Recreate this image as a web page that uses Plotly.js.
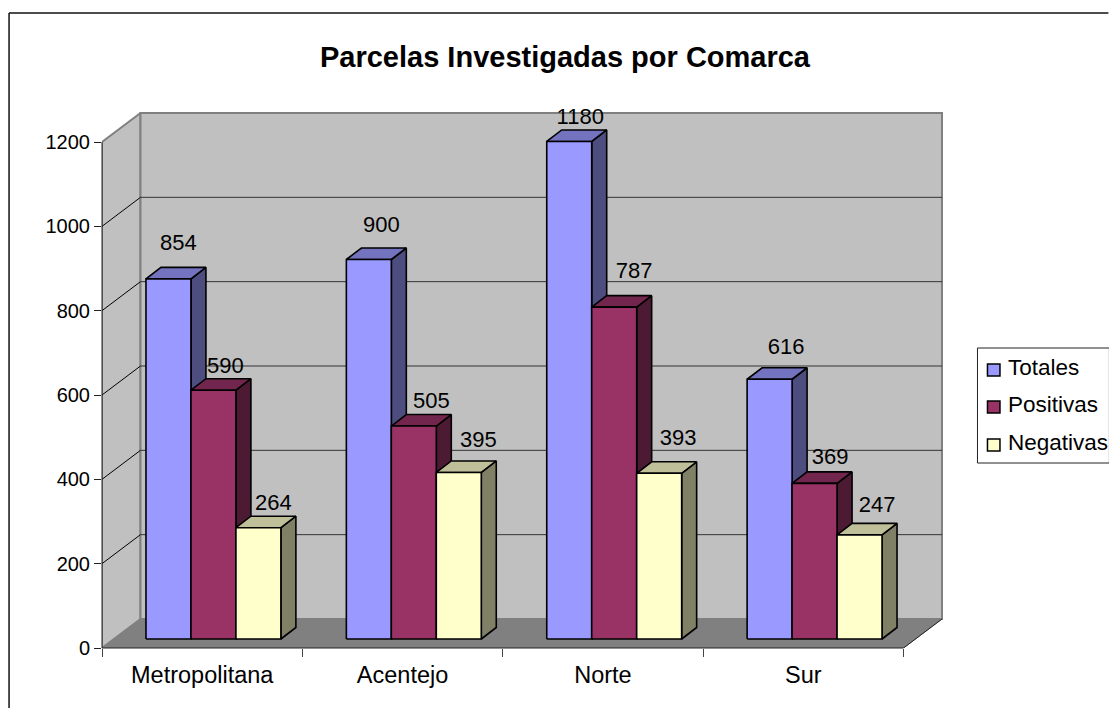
<!DOCTYPE html>
<html><head><meta charset="utf-8">
<script src="https://cdn.plot.ly/plotly-3.0.1.min.js"></script>
<style>html,body{margin:0;padding:0;background:#fff;overflow:hidden}</style>
</head><body><div id="chart" style="width:1109px;height:708px"></div>
<script>
const categories = ["Metropolitana","Acentejo","Norte","Sur"];
const totales = [854,900,1180,616];
const positivas = [590,505,787,369];
const negativas = [264,395,393,247];
const yTicks = [0,200,400,600,800,1000,1200];

const W=1109,H=708,L=102,R=904,T=142,B=648;
const pxX=(R-L)/4, pxY=(B-T)/1200;
const ux=p=>p/pxX, uy=p=>p/pxY;
const FONT='"Liberation Sans",Arial,sans-serif';
const barStart=ux(44), barW=ux(45), base=uy(9), depthX=ux(15), depthY=uy(11.5);
const wallX=ux(38.5), wallY=uy(29);
const padR=3, padT=3; // room so the wall borders are not clipped
const plotR=R+38.5+padR, plotT=T-29-padT;

const seriesDefs=[
 {name:"Totales",vals:totales,front:"#9999FF",side:"#4D4D80",top:"#7373BF",ldx:[10,12.5,11,16.5],ldy:[34,33.5,23,31]},
 {name:"Positivas",vals:positivas,front:"#993366",side:"#4D1A33",top:"#73264D",ldx:[12,17.5,20,15.5],ldy:[23,24,35,25]},
 {name:"Negativas",vals:negativas,front:"#FFFFCC",side:"#808066",top:"#BFBF99",ldx:[15,19.5,19,17.5],ldy:[23,31,34,28]}];

function poly(x,y,color,lineColor,lw,name){
  return {type:"scatter",mode:"lines",x,y,fill:"toself",fillcolor:color,name,
    line:{color:lineColor,width:lw},cliponaxis:false,showlegend:false,hoverinfo:"skip"};
}
function closed(list){
  const x=[],y=[];
  list.forEach(p=>{p.forEach(q=>{x.push(q[0]);y.push(q[1]);});x.push(p[0][0]);y.push(p[0][1]);x.push(null);y.push(null);});
  return [x,y];
}
const traces=[];
let w=closed([[[0,0],[wallX,wallY],[wallX,1200+wallY],[0,1200]]]);
traces.push(poly(w[0],w[1],"#C0C0C0","#808080",2,"Pared lateral"));
w=closed([[[wallX,wallY],[4+wallX,wallY],[4+wallX,1200+wallY],[wallX,1200+wallY]]]);
traces.push(poly(w[0],w[1],"#C0C0C0","#808080",2,"Pared"));
w=closed([[[0,0],[wallX,wallY],[4+wallX,wallY],[4,0]]]);
traces.push(poly(w[0],w[1],"#808080","#808080",1,"Suelo"));
traces.push({type:"scatter",mode:"lines",x:[4,4+wallX],y:[0,wallY],line:{color:"#222",width:1},cliponaxis:false,showlegend:false,hoverinfo:"skip"});
const gx=[],gy=[];
yTicks.slice(1,-1).forEach(v=>{gx.push(0,wallX,null);gy.push(v,v+wallY,null);});
traces.push({type:"scatter",mode:"lines",x:gx,y:gy,line:{color:"#000",width:1},cliponaxis:false,showlegend:false,hoverinfo:"skip"});
const hx=[],hy=[];
yTicks.slice(1,-1).forEach(v=>{hx.push(wallX,4+wallX,null);hy.push(v+wallY,v+wallY,null);});
traces.push({type:"scatter",mode:"lines",x:hx,y:hy,line:{color:"#333",width:1},cliponaxis:false,showlegend:false,hoverinfo:"skip"});
seriesDefs.forEach((s,si)=>{
  const sides=[],tops=[],fronts=[];
  s.vals.forEach((v,i)=>{
    const x0=i+barStart+si*barW,x1=x0+barW,y0=base,y1=base+v;
    fronts.push([[x0,y0],[x1,y0],[x1,y1],[x0,y1]]);
    sides.push([[x1,y0],[x1+depthX,y0+depthY],[x1+depthX,y1+depthY],[x1,y1]]);
    tops.push([[x0,y1],[x1,y1],[x1+depthX,y1+depthY],[x0+depthX,y1+depthY]]);
  });
  let c=closed(sides);traces.push(poly(c[0],c[1],s.side,"#000",1.6,s.name+" lateral"));
  c=closed(tops);traces.push(poly(c[0],c[1],s.top,"#000",1.6,s.name+" superior"));
  c=closed(fronts);traces.push(poly(c[0],c[1],s.front,"#000",1.6,s.name));
});
seriesDefs.forEach((s,si)=>{
  traces.push({type:"scatter",mode:"text",name:s.name+" valores",
    x:s.vals.map((v,i)=>i+barStart+si*barW+barW/2+ux(s.ldx[i])),
    y:s.vals.map((v,i)=>v+base+uy(s.ldy[i])),
    text:s.vals.map(String),textposition:"middle center",
    textfont:{family:FONT,size:22,color:"#000"},cliponaxis:false,showlegend:false,hoverinfo:"skip"});
});
const px=p=>(p-L)/(plotR-L), py=p=>(B-p)/(B-plotT);
const shapes=[
 {type:"line",xref:"paper",yref:"paper",x0:px(9),x1:px(9),y0:py(13),y1:py(708),line:{color:"#111",width:1.5}},
 {type:"line",xref:"paper",yref:"paper",x0:px(9),x1:px(1109),y0:py(13),y1:py(13),line:{color:"#111",width:1.5}},
 {type:"rect",xref:"paper",yref:"paper",x0:px(978),x1:px(1110),y0:py(348),y1:py(463),line:{color:"#222",width:1},fillcolor:"#fff"},
 {type:"line",xref:"paper",yref:"paper",x0:px(L),x1:px(L),y0:py(T),y1:py(B),line:{color:"#222",width:1}},
 {type:"line",xref:"paper",yref:"paper",x0:px(L),x1:px(R),y0:py(B),y1:py(B),line:{color:"#222",width:1}}
];
const annotations=[];
const legendY=[367,404,442];
seriesDefs.forEach((s,i)=>{
  shapes.push({type:"rect",xref:"paper",yref:"paper",x0:px(988),x1:px(1000.5),y0:py(legendY[i]-3),y1:py(legendY[i]+9),
    line:{color:"#000",width:1.5},fillcolor:s.front});
  annotations.push({xref:"paper",yref:"paper",x:px(1007),y:py(legendY[i]),xanchor:"left",yanchor:"middle",showarrow:false,
    text:s.name,font:{family:FONT,size:22.5,color:"#000"}});
});
const layout={
 width:W,height:H,margin:{l:L,r:W-plotR,t:plotT,b:H-B,pad:0,autoexpand:false},
 paper_bgcolor:"#fff",plot_bgcolor:"rgba(0,0,0,0)",showlegend:false,
 title:{text:"Parcelas Investigadas por Comarca",x:565/W,xanchor:"center",y:1-57/H,yanchor:"middle",
   font:{family:FONT,size:29,color:"#000",weight:"bold"}},
 xaxis:{type:"linear",range:[0,ux(plotR-L)],tickmode:"array",tickvals:categories.map((c,i)=>i+0.5),ticktext:categories,
   ticks:"",showgrid:false,zeroline:false,showline:false,
   tickfont:{family:FONT,size:23.5,color:"#000"},ticklabelstandoff:10,
   minor:{tickmode:"array",tickvals:[0,1,2,3,4],ticks:"outside",ticklen:8,tickcolor:"#444",tickwidth:1,showgrid:false}},
 yaxis:{type:"linear",range:[0,uy(B-plotT)],tickmode:"array",tickvals:yTicks,ticktext:yTicks.map(String),
   ticks:"outside",ticklen:7,tickcolor:"#222",tickwidth:1,showgrid:false,zeroline:false,showline:false,
   tickfont:{family:FONT,size:20,color:"#000"}},
 shapes,annotations
};
Plotly.newPlot("chart",traces,layout,{displayModeBar:false,staticPlot:true});
</script></body></html>
